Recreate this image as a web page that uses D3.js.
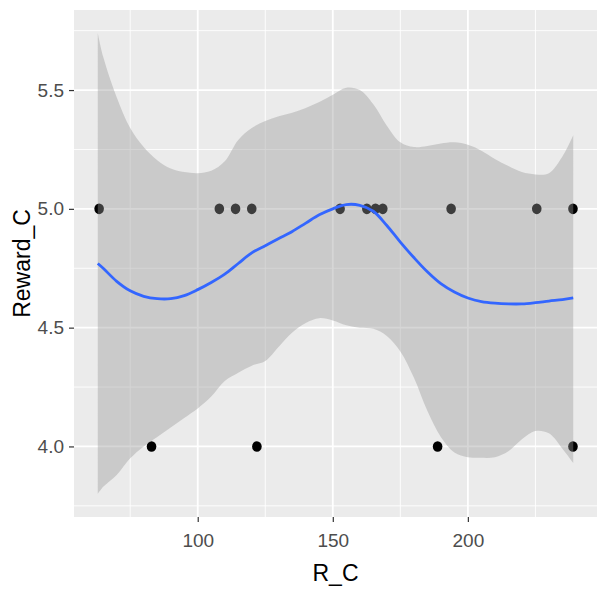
<!DOCTYPE html>
<html>
<head>
<meta charset="utf-8">
<script src="https://cdn.jsdelivr.net/npm/d3@7"></script>
<style>
  body { margin: 0; background: #fff; }
  text { font-family: "Liberation Sans", Arial, sans-serif; }
</style>
</head>
<body>
<svg id="chart"></svg>
<script>
// observed points
const pointX = [63.5, 108, 114, 120, 152.7, 162.6, 165.8, 168.5, 193.8, 225.5, 238.9,
                82.9, 121.9, 188.8, 238.9];
const pointY = [5, 5, 5, 5, 5, 5, 5, 5, 5, 5, 5,
                4, 4, 4, 4];

// loess fit and its confidence band
const smoothX = [63, 65, 70, 75, 80, 85, 90, 95, 100, 105, 110, 115, 120, 125, 130, 135, 140, 145,
                 150, 155, 160, 165, 170, 175, 180, 185, 190, 195, 200, 205, 210, 215, 220, 225, 230, 235, 239];
const smoothFit = [4.77, 4.75, 4.695, 4.655, 4.632, 4.622, 4.622, 4.635, 4.66, 4.69, 4.725, 4.77, 4.815,
                   4.845, 4.875, 4.905, 4.94, 4.975, 5.0, 5.018, 5.015, 4.99, 4.93, 4.86, 4.795, 4.735,
                   4.685, 4.65, 4.625, 4.61, 4.603, 4.6, 4.6, 4.605, 4.612, 4.618, 4.625];
const smoothLo = [3.80, 3.83, 3.88, 3.95, 4.00, 4.04, 4.08, 4.12, 4.16, 4.21, 4.275, 4.31, 4.34,
                  4.36, 4.42, 4.48, 4.52, 4.54, 4.53, 4.51, 4.50, 4.495, 4.465, 4.40, 4.29, 4.15,
                  4.04, 3.975, 3.955, 3.952, 3.955, 3.98, 4.03, 4.065, 4.055, 3.99, 3.93];
const smoothHi = [5.74, 5.64, 5.47, 5.34, 5.26, 5.205, 5.17, 5.155, 5.15, 5.16, 5.2, 5.29, 5.34,
                  5.37, 5.39, 5.405, 5.425, 5.45, 5.48, 5.51, 5.50, 5.44, 5.35, 5.28, 5.26, 5.265,
                  5.275, 5.28, 5.27, 5.245, 5.21, 5.18, 5.155, 5.145, 5.15, 5.22, 5.31];

const xTicks = [100, 150, 200];
const xMinor = [75, 125, 175, 225];
const yTicks = [4.0, 4.5, 5.0, 5.5];
const yMinor = [3.75, 4.25, 4.75, 5.25, 5.75];

const width = 598, height = 590;
const panel = { left: 74, right: 597, top: 10, bottom: 517 };

const svg = d3.select("#chart")
    .attr("width", width)
    .attr("height", height);

// ggplot style 5% expansion
function expand(ext) {
    const d = (ext[1] - ext[0]) * 0.05;
    return [ext[0] - d, ext[1] + d];
}
const xExt = d3.extent(pointX.concat(smoothX));
const yExt = d3.extent(pointY.concat(smoothLo, smoothHi));

const x = d3.scaleLinear().domain(expand(xExt)).range([panel.left, panel.right]);
const y = d3.scaleLinear().domain(expand(yExt)).range([panel.bottom, panel.top]);

// panel background
svg.append("rect")
    .attr("x", panel.left).attr("y", panel.top)
    .attr("width", panel.right - panel.left)
    .attr("height", panel.bottom - panel.top)
    .attr("fill", "#ebebeb");

// grid lines
const grid = svg.append("g");
grid.selectAll(".xminor").data(xMinor).enter().append("line")
    .attr("x1", d => x(d)).attr("x2", d => x(d))
    .attr("y1", panel.top).attr("y2", panel.bottom)
    .attr("stroke", "#fff").attr("stroke-width", 0.9);
grid.selectAll(".yminor").data(yMinor).enter().append("line")
    .attr("y1", d => y(d)).attr("y2", d => y(d))
    .attr("x1", panel.left).attr("x2", panel.right)
    .attr("stroke", "#fff").attr("stroke-width", 0.9);
grid.selectAll(".xmajor").data(xTicks).enter().append("line")
    .attr("x1", d => x(d)).attr("x2", d => x(d))
    .attr("y1", panel.top).attr("y2", panel.bottom)
    .attr("stroke", "#fff").attr("stroke-width", 1.8);
grid.selectAll(".ymajor").data(yTicks).enter().append("line")
    .attr("y1", d => y(d)).attr("y2", d => y(d))
    .attr("x1", panel.left).attr("x2", panel.right)
    .attr("stroke", "#fff").attr("stroke-width", 1.8);

// points (drawn under the ribbon, like geom_point + geom_smooth)
svg.append("g").selectAll("ellipse")
    .data(pointX.map((d, i) => [d, pointY[i]]))
    .enter().append("ellipse")
    .attr("cx", d => x(d[0]))
    .attr("cy", d => y(d[1]))
    .attr("rx", 4.8)
    .attr("ry", 5.3)
    .attr("fill", "#000");

// confidence band
const band = smoothX.map((d, i) => ({ x: d, lo: smoothLo[i], hi: smoothHi[i], fit: smoothFit[i] }));
const area = d3.area()
    .x(d => x(d.x))
    .y0(d => y(d.lo))
    .y1(d => y(d.hi))
    .curve(d3.curveCatmullRom);
svg.append("path")
    .datum(band)
    .attr("d", area)
    .attr("fill", "#999999")
    .attr("fill-opacity", 0.4);

// loess line
const line = d3.line()
    .x(d => x(d.x))
    .y(d => y(d.fit))
    .curve(d3.curveCatmullRom);
svg.append("path")
    .datum(band)
    .attr("d", line)
    .attr("fill", "none")
    .attr("stroke", "#3366ff")
    .attr("stroke-width", 2.8);

// axes
const xAxis = svg.append("g")
    .attr("transform", `translate(0,${panel.bottom})`)
    .call(d3.axisBottom(x).tickValues(xTicks).tickSize(5).tickPadding(12));
const yAxis = svg.append("g")
    .attr("transform", `translate(${panel.left},0)`)
    .call(d3.axisLeft(y).tickValues(yTicks).tickFormat(d3.format(".1f")).tickSize(5).tickPadding(5));

[xAxis, yAxis].forEach(a => {
    a.select(".domain").remove();
    a.selectAll(".tick line").attr("stroke", "#333").attr("stroke-width", 1.2);
    a.selectAll(".tick text")
        .attr("fill", "#4d4d4d")
        .style("font-size", "19px")
        .style("font-family", "'Liberation Sans', Arial, sans-serif");
});

// axis titles
svg.append("text")
    .attr("x", (panel.left + panel.right) / 2)
    .attr("y", 581)
    .attr("text-anchor", "middle")
    .style("font-size", "23px")
    .attr("fill", "#000")
    .text("R_C");

svg.append("text")
    .attr("transform", `translate(30,${(panel.top + panel.bottom) / 2}) rotate(-90)`)
    .attr("text-anchor", "middle")
    .style("font-size", "23px")
    .attr("fill", "#000")
    .text("Reward_C");
</script>
</body>
</html>
